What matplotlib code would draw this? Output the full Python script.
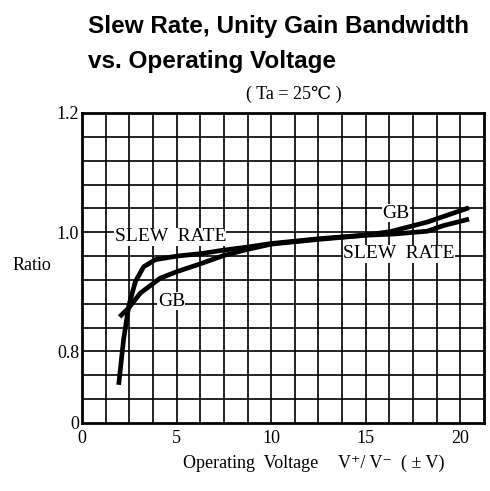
import matplotlib.pyplot as plt
import numpy as np

# values (y is a broken axis: "0" is drawn at 0.68)
sr_v = [1.94, 2.2, 2.47, 2.82, 3.26, 3.88, 5.03, 6.26, 7.5, 8.73, 10.0, 12.5, 14.7, 16.5, 18.25, 19.1, 20.46]
sr_ratio = [0.744, 0.82, 0.876, 0.917, 0.942, 0.954, 0.960, 0.964, 0.970, 0.975, 0.981, 0.989, 0.9945, 0.997, 1.0017, 1.011, 1.022]
gb_v = [1.99, 2.47, 3.09, 4.14, 5.03, 6.26, 7.5, 8.73, 10.0, 12.5, 14.7, 16.3, 18.25, 20.46]
gb_ratio = [0.858, 0.873, 0.898, 0.923, 0.934, 0.947, 0.961, 0.971, 0.980, 0.988, 0.994, 1.001, 1.017, 1.041]

x_ticks = [0, 5, 10, 15, 20]
y_ticks = [0.68, 0.8, 1.0, 1.2]
y_tick_labels = ["0", "0.8", "1.0", "1.2"]

serif = ["Liberation Serif", "DejaVu Serif", "Noto Sans CJK JP"]

fig = plt.figure(figsize=(4.9, 4.91), dpi=100)
ax = fig.add_axes([0.1673, 0.1385, 0.8204, 0.6314])

ax.set_xlim(0, 21.25)
ax.set_ylim(0.68, 1.2)
# grid drawn as plain lines so every 1.25 V / 0.04 step is present
for gx in np.arange(1.25, 21.2, 1.25):
    ax.axvline(gx, color="black", linewidth=1.2, zorder=1)
for gy in np.arange(0.72, 1.19, 0.04):
    ax.axhline(gy, color="black", linewidth=1.2, zorder=1)
ax.set_xticks(x_ticks)
ax.set_xticklabels([str(t) for t in x_ticks], family=serif, fontsize=13)
ax.set_yticks(y_ticks)
ax.set_yticklabels(y_tick_labels, family=serif, fontsize=13)
ax.tick_params(axis="x", length=0, pad=5)
ax.tick_params(axis="y", length=0, pad=2)
for s in ax.spines.values():
    s.set_linewidth(2)

ax.plot(sr_v, sr_ratio, color="black", linewidth=3.4, solid_capstyle="butt", zorder=3)
ax.plot(gb_v, gb_ratio, color="black", linewidth=3.4, solid_capstyle="butt", zorder=3)

box = dict(facecolor="white", edgecolor="none", pad=0.3)
ax.text(4.67, 0.992, "SLEW  RATE", family=serif, fontsize=14, ha="center", va="center", bbox=box, zorder=4)
ax.text(4.73, 0.884, "GB", family=serif, fontsize=14, ha="center", va="center", bbox=box, zorder=4)
ax.text(16.6, 1.032, "GB", family=serif, fontsize=14, ha="center", va="center", bbox=box, zorder=4)
ax.text(16.75, 0.964, "SLEW  RATE", family=serif, fontsize=14, ha="center", va="center", bbox=box, zorder=4)

fig.text(0.18, 0.946, "Slew Rate, Unity Gain Bandwidth", family="Liberation Sans",
         fontweight="bold", fontsize=17.5, ha="left", va="center")
fig.text(0.18, 0.875, "vs. Operating Voltage", family="Liberation Sans",
         fontweight="bold", fontsize=17.5, ha="left", va="center")
fig.text(0.6, 0.807, "( Ta = 25℃ )", family=serif, fontsize=13, ha="center", va="center")
fig.text(0.065, 0.46, "Ratio", family=serif, fontsize=13, ha="center", va="center")
fig.text(0.512, 0.057, "Operating  Voltage", family=serif, fontsize=13, ha="center", va="center")
fig.text(0.798, 0.057, "V⁺/ V⁻  ( ± V)", family=serif, fontsize=13, ha="center", va="center")

fig.savefig("out.png", dpi=100)
